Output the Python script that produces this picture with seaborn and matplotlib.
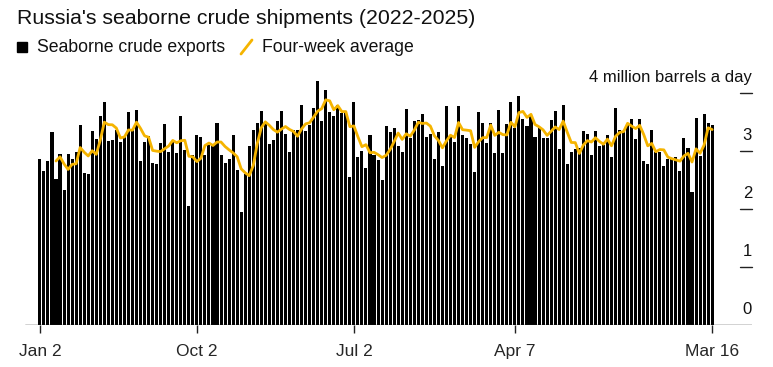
import numpy as np
import pandas as pd
import seaborn as sns
import matplotlib.pyplot as plt
import matplotlib.transforms as mtransforms
from matplotlib.patches import Rectangle
from matplotlib.lines import Line2D

# weekly seaborne crude exports, million barrels a day
first_week = "2022-01-02"
exports = [
    2.86, 2.66, 2.82, 3.32, 2.51, 2.95, 2.33, 2.94, 2.86, 2.99,
    3.45, 2.62, 2.60, 3.35, 3.20, 3.60, 3.84, 3.18, 3.19, 3.37,
    3.16, 3.25, 3.67, 3.36, 3.71, 2.82, 3.16, 3.26, 2.80, 2.77,
    3.13, 3.46, 2.99, 3.15, 2.97, 3.60, 3.02, 2.05, 2.93, 3.27,
    3.25, 2.93, 3.10, 3.10, 3.49, 2.93, 2.79, 2.87, 3.28, 2.67,
    1.95, 2.60, 3.08, 3.36, 3.48, 3.69, 3.48, 3.12, 3.19, 3.51,
    3.69, 3.30, 2.99, 3.37, 3.36, 3.80, 3.34, 3.45, 3.75, 4.21,
    3.51, 4.06, 3.68, 3.60, 3.79, 3.65, 3.68, 2.56, 3.84, 2.90,
    3.00, 2.70, 3.28, 2.93, 2.84, 2.50, 3.43, 3.33, 3.39, 3.09,
    2.99, 3.72, 3.22, 3.51, 3.53, 3.64, 3.25, 3.30, 2.86, 3.32,
    2.74, 3.78, 3.25, 3.16, 3.78, 3.28, 3.22, 3.12, 2.63, 3.68,
    3.49, 3.13, 3.49, 2.97, 3.70, 2.97, 3.47, 3.84, 3.39, 3.95,
    3.55, 3.43, 3.60, 3.25, 3.39, 3.22, 3.22, 3.53, 3.69, 3.04,
    3.80, 2.77, 2.98, 3.03, 3.05, 3.35, 3.29, 2.93, 3.35, 3.09,
    3.10, 3.28, 2.89, 3.74, 3.37, 3.34, 3.46, 3.55, 3.20, 3.56,
    2.83, 2.77, 3.36, 2.99, 2.98, 2.75, 2.86, 2.88, 2.90, 2.66,
    3.22, 3.06, 2.30, 3.57, 2.91, 3.63, 3.49, 3.45,
]
tick_dates = ["2022-01-02", "2022-10-02", "2023-07-02", "2024-04-07", "2025-03-16"]
tick_labels = ["Jan 2", "Oct 2", "Jul 2", "Apr 7", "Mar 16"]
y_ticks = [0, 1, 2, 3, 4]
y_labels = ["0", "1", "2", "3", "4 million barrels a day"]

bar_color = "black"
line_color = "#F5B400"

weeks = pd.date_range(first_week, periods=len(exports), freq="7D")
df = pd.DataFrame({"week": weeks, "exports": exports})
df["pos"] = np.arange(len(df))
df["avg"] = df["exports"].rolling(4).mean()
df.loc[:3, "avg"] = np.nan  # line starts at week 5 in the original

sns.set_theme(style="white")
plt.rcParams["font.family"] = ["Liberation Sans", "DejaVu Sans"]

fig = plt.figure(figsize=(7.73, 3.67), dpi=100)
ax = fig.add_axes([25 / 773, 42 / 367, 727 / 773, 255 / 367])

sns.barplot(data=df, x="pos", y="exports", color=bar_color, saturation=1,
            width=0.76, linewidth=0, native_scale=True, ax=ax)
sns.lineplot(data=df, x="pos", y="avg", color=line_color, linewidth=2.0, ax=ax)

ax.set_xlim(-3.7, 176.9)
ax.set_ylim(0, 4.397)
for s in ax.spines.values():
    s.set_visible(False)
ax.axhline(0, color="#222222", lw=1)

tick_pos = [weeks.get_loc(pd.Timestamp(d)) for d in tick_dates]
ax.set_xticks(tick_pos)
ax.set_xticklabels(tick_labels)
ax.tick_params(axis="x", length=6, width=1, color="#222222", pad=8, labelsize=12.5,
               bottom=True)
ax.set_yticks([])
ax.set_xlabel("")
ax.set_ylabel("")

# right-hand labels sitting above short dashes
trans = mtransforms.blended_transform_factory(ax.transAxes, ax.transData)
for v, lab in zip(y_ticks, y_labels):
    if v > 0:
        ax.plot([(740 - 25) / 727, 1.0], [v, v], transform=trans,
                color="#222222", lw=1, clip_on=False)
    ax.annotate(lab, xy=(1.0, v), xycoords=trans, xytext=(0, 8),
                textcoords="offset points", ha="right", va="baseline",
                fontsize=12, color="#111111")

# title and legend
fig.text(17 / 773, 1 - 18 / 367, "Russia's seaborne crude shipments (2022-2025)",
         fontsize=15.3, va="center", ha="left", color="#111111")
fig.add_artist(Rectangle((17 / 773, 1 - 52 / 367), 10 / 773, 10 / 367,
                         transform=fig.transFigure, color=bar_color))
fig.text(37 / 773, 1 - 47 / 367, "Seaborne crude exports", fontsize=12.7,
         va="center", ha="left", color="#111111")
fig.add_artist(Line2D([241 / 773, 252 / 773], [1 - 54 / 367, 1 - 40 / 367],
                      color=line_color, lw=2, transform=fig.transFigure))
fig.text(262 / 773, 1 - 47 / 367, "Four-week average", fontsize=12.7,
         va="center", ha="left", color="#111111")

fig.savefig("out.png", dpi=100, facecolor="white")
